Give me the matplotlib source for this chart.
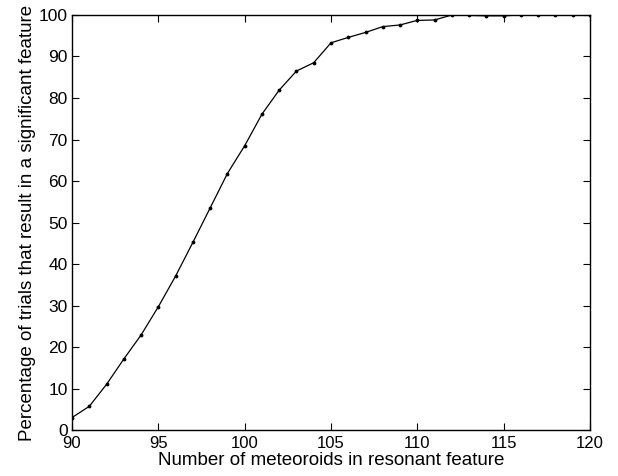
import numpy as np
import matplotlib.pyplot as plt

plt.rcParams['font.family'] = ['Liberation Sans', 'DejaVu Sans']

# number of meteoroids in the resonant feature
n_meteoroids = np.arange(90, 121)
# percentage of trials giving a significant feature
pct = [3.0, 5.7, 11.0, 17.1, 22.9, 29.7, 37.1, 45.2, 53.5, 61.8,
       68.5, 76.1, 81.9, 86.5, 88.5, 93.3, 94.6, 95.8, 97.2, 97.6,
       98.7, 98.8, 100.0, 99.9, 99.8, 99.8, 100.0, 100.0, 100.0, 100.0,
       100.0]

fig = plt.figure(figsize=(6.18, 4.76), dpi=100)
ax = fig.add_axes([0.1165, 0.0966, 0.8382, 0.8719])
ax.plot(n_meteoroids, pct, 'k.-', lw=0.9, ms=3.5)
ax.set_xlim(90, 120)
ax.set_ylim(0, 100)
ax.set_xticks(np.arange(90, 121, 5))
ax.set_yticks(np.arange(0, 101, 10))
ax.tick_params(direction='in', top=True, right=True, labelsize=12.5, length=5)
ax.tick_params(axis='x', pad=4, labelsize=12)
ax.tick_params(axis='y', pad=3)
ax.set_xlabel('Number of meteoroids in resonant feature', fontsize=13.5, labelpad=1)
ax.set_ylabel('Percentage of trials that result in a significant feature', fontsize=13.5, labelpad=2)
for s in ax.spines.values():
    s.set_linewidth(1.0)

fig.savefig('out.png', dpi=100)
